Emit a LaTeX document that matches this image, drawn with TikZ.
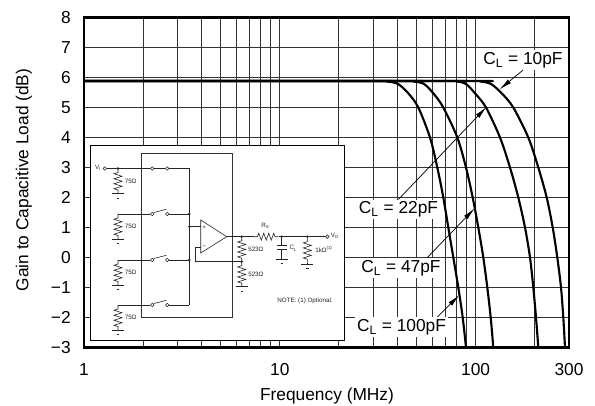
\documentclass[tikz,border=0pt]{standalone}
\usepackage{fontspec}
\setmainfont{Liberation Sans}
\usetikzlibrary{arrows.meta}

\tikzset{
  gridline/.style={line width=0.6pt, black!80},
  plotframe/.style={line width=2pt},
  gaincurve/.style={line width=1.6pt, line join=round},
  callout/.style={line width=0.55pt, -{Latex[length=9.5pt,width=3.6pt]}},
  cllabel/.style={fill=white, inner sep=1.5pt, font=\fontsize{13}{15}\selectfont},
  ticklabel/.style={inner sep=0pt, font=\fontsize{13}{15}\selectfont},
  wire/.style={line width=0.45pt, black!85},
  tinylabel/.style={inner sep=0pt, font=\fontsize{4.7}{5}\selectfont, text=black!85},
  jdot/.style={circle, fill=black!85, inner sep=0pt, minimum size=2pt},
  openterm/.style={circle, draw=black!85, fill=white, line width=0.45pt, inner sep=0pt, minimum size=2.6pt},
  % pics draw downwards (negative y inside a pic)
  vres/.pic={\draw[wire] (0,0) -- (0,-4) -- (-4,-5.25) -- (4,-7.75) -- (-4,-10.25) -- (4,-12.75) -- (-4,-15.25) -- (4,-17.75) -- (-4,-20.25) -- (0,-21.5) -- (0,-25);},
  hres/.pic={\draw[wire] (0,0) -- (4,0) -- (5.25,3.5) -- (7.75,-3.5) -- (10.25,3.5) -- (12.75,-3.5) -- (15.25,3.5) -- (17.75,-3.5) -- (20.25,3.5) -- (21.5,0) -- (25,0);},
  gnd/.pic={\draw[wire] (-6,0) -- (6,0); \draw[wire] (-1.2,-4.5) -- (1.2,-4.5);},
}

\begin{document}
\begin{tikzpicture}[x=0.75pt,y=0.75pt,yscale=-1,xscale=1]
\useasboundingbox (0,0) rectangle (595,406);

%Grid
\begin{scope}
\clip (84,17.5) rectangle (569,347.5);
\foreach \f in {2,3,4,5,6,7,8,9,10,20,30,40,50,60,70,80,90,100,200}{
  \pgfmathsetmacro\gx{84+195.8*log10(\f)}
  \draw[gridline] (\gx,17.5) -- (\gx,347.5);
}
\foreach \g in {-2,...,7}
  \draw[gridline] (84,{17.5+(8-\g)*30}) -- (569,{17.5+(8-\g)*30});
\end{scope}

%Shape: Inset [white box over the grid]
\draw[fill=white, line width=0.6pt] (90,145) rectangle (344,340.5);
\draw[line width=0.55pt, black!80] (141,153) rectangle (232,317);

%Input channels
\draw (104.7,168.5) node[openterm] (vi) {};
\draw (101.5,168) node[tinylabel, anchor=east] (vilab) {V\textsubscript{I}};
\draw (152.3,168.5) node[openterm] (s1a) {};
\draw (167.3,168.5) node[openterm] (s1b) {};
\draw[wire] (vi) -- (s1a);
\draw[wire] (s1a) -- (s1b);
\draw[wire] (s1b) -- (189.3,168.5) -- (189.3,305);
\pic at (118,168.5) {vres};
\pic at (118,193.5) {gnd};
\draw (124.5,181) node[tinylabel, anchor=west] (r1lab) {75Ω};
\draw (118,168.5) node[jdot] {};
\foreach \y/\n in {214/2,260/3,305/4}{
  \draw (152.3,\y) node[openterm] (s\n a) {};
  \draw (167.3,\y) node[openterm] (s\n b) {};
  \draw[wire] (118,\y) -- (s\n a);
  \draw[wire] (s\n a.north east) -- (166.3,\y-4.7);
  \draw[wire] (s\n b) -- (189.3,\y);
  \pic at (118,\y) {vres};
  \pic at (118,\y+25) {gnd};
  \draw (124.5,\y+12.5) node[tinylabel, anchor=west] (r\n lab) {75Ω};
}
\draw (189.3,214) node[jdot] {};
\draw (189.3,226.7) node[jdot] {};
\draw (189.3,260) node[jdot] {};

%Op amp
\draw[wire] (200.7,220) -- (226.7,236.7) -- (200.7,253) -- cycle;
\draw (204.2,227.3) node[tinylabel] (inp) {+};
\draw (204.2,247.3) node[tinylabel] (inn) {−};
\draw[wire] (189.3,226.7) -- (200.7,226.7);
\draw[wire] (200.7,247.3) -- (195.3,247.3) -- (195.3,261.7) -- (241.7,261.7);

%Output side
\draw (327.3,236.7) node[openterm] (vo) {};
\draw (330.5,235.7) node[tinylabel, anchor=west] (volab) {V\textsubscript{O}};
\draw[wire] (226.7,236.7) -- (253.5,236.7);
\pic at (253.5,236.7) {hres};
\draw[wire] (278.5,236.7) -- (vo);
\draw (265.5,226) node[tinylabel] (rslab) {R\textsubscript{S}};
\pic at (241.7,236.7) {vres};
\pic at (241.7,261.7) {vres};
\pic at (241.7,286.7) {gnd};
\draw (248,249.3) node[tinylabel, anchor=west] (rf1lab) {523Ω};
\draw (248,274.3) node[tinylabel, anchor=west] (rf2lab) {523Ω};
\draw[wire] (281.7,236.7) -- (281.7,245.7);
\draw[wire] (276.5,245.7) -- (287,245.7);
\draw[wire] (276.5,249.3) -- (287,249.3);
\draw[wire] (281.7,249.3) -- (281.7,259);
\pic at (281.7,259) {gnd};
\draw (289.3,248.3) node[tinylabel, anchor=west] (cllab) {C\textsubscript{L}};
\pic at (307.3,237.7) {vres};
\draw[wire] (307.3,262.7) -- (307.3,264);
\pic at (307.3,264) {gnd};
\draw (315,249.3) node[tinylabel, anchor=west] (rllab) {1kΩ\textsuperscript{(1)}};
\draw (241.7,236.7) node[jdot] {};
\draw (241.7,261.7) node[jdot] {};
\draw (281.7,236.7) node[jdot] {};
\draw (307.3,236.7) node[jdot] {};
\draw (305,300.7) node[tinylabel] (note) {NOTE: (1) Optional.};

%Curve Lines [gain, from 100pF to 10pF]
\begin{scope}
\clip (84,17.5) rectangle (569,347.5);
\draw[gaincurve] plot[smooth, tension=0.5] coordinates {(84,81) (370,81) (386.7,81.5) (398,84) (408.3,93.3) (418.3,107.5) (430,137.5) (437.3,167.5) (443.3,197.5) (448.3,227.5) (453.3,257.5) (458.3,287.5) (462.7,317.5) (466,347.5)};
\draw[gaincurve] plot[smooth, tension=0.5] coordinates {(84,81) (400,81) (413.3,81.5) (424,84) (433.3,93.3) (443.3,107.5) (457.3,137.5) (466,167.5) (472.7,197.5) (478.3,227.5) (483.3,257.5) (487.3,287.5) (490.7,317.5) (493.3,347.5)};
\draw[gaincurve] plot[smooth, tension=0.5] coordinates {(84,81) (440,81) (456.7,81.5) (466,84) (475,93.3) (486,107.5) (500,137.5) (510,167.5) (518.3,197.5) (525,227.5) (530,257.5) (533.3,287.5) (536,317.5) (538.3,347.5)};
\draw[gaincurve] plot[smooth, tension=0.5] coordinates {(84,81) (465,81) (480,81.5) (491,84) (501.7,93.3) (513.3,107.5) (528.3,137.5) (538.3,167.5) (546.7,197.5) (552.7,227.5) (557.3,257.5) (561,287.5) (563.3,317.5) (565,347.5)};
\end{scope}

%Shape: Frame
\draw[plotframe] (84,17.5) rectangle (569,347.5);

%Tick labels
\foreach \g/\t in {8/8,7/7,6/6,5/5,4/4,3/3,2/2,1/1,0/0,-1/−1,-2/−2,-3/−3}
  \draw (71,{17.5+(8-\g)*30}) node[ticklabel, anchor=east] {\t};
\draw (84,370) node[ticklabel] (x1) {1};
\draw (279.8,370) node[ticklabel] (x10) {10};
\draw (475.6,370) node[ticklabel] (x100) {100};
\draw (569,370) node[ticklabel] (x300) {300};

% Text Node
\draw (24,180) node[ticklabel, rotate=90] (ytitle) {Gain to Capacitive Load (dB)};
% Text Node
\draw (327,396) node[ticklabel] (xtitle) {Frequency (MHz)};

%Callouts
\draw (523,60) node[cllabel] (l10) {C\textsubscript{L} = 10pF};
\draw (398.5,209.5) node[cllabel] (l22) {C\textsubscript{L} = 22pF};
\draw (401,268) node[cllabel] (l47) {C\textsubscript{L} = 47pF};
\draw (401.5,327) node[cllabel] (l100) {C\textsubscript{L} = 100pF};
\coordinate (t10) at (499.5,89.5);
\coordinate (t22) at (486.5,107);
\coordinate (t47) at (474.7,208.3);
\coordinate (t100) at (459.4,295);
\draw[callout] (l10.south) -- (t10);
\draw[callout] (l22.north) -- (t22);
\draw[callout] ([xshift=19.5pt]l47.north) -- (t47);
\draw[callout] ([xshift=27pt]l100.north) -- (t100);

\end{tikzpicture}
\end{document}
